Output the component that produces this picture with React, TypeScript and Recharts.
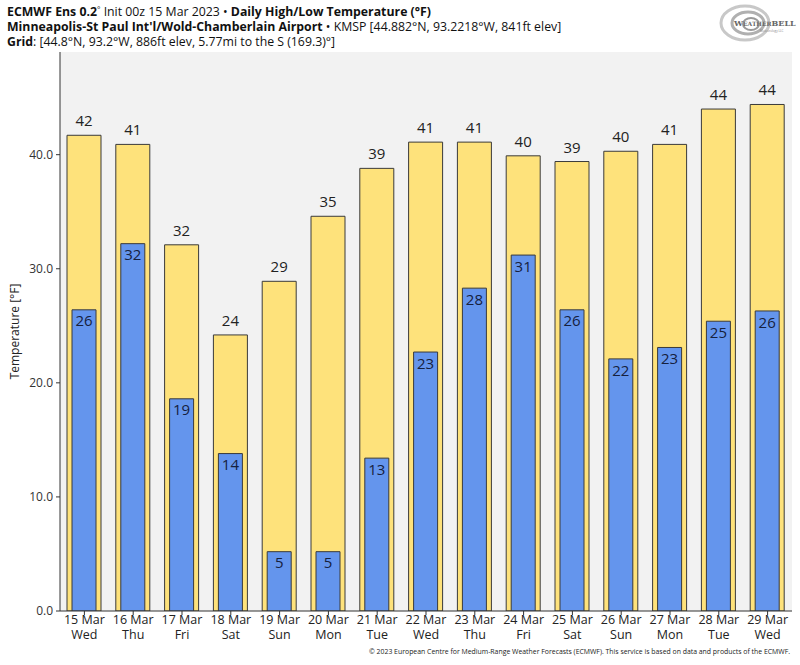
import React from "react";
import {
  ComposedChart,
  Bar,
  XAxis,
  YAxis,
  CartesianGrid,
  LabelList,
} from "recharts";

const dates = ["15 Mar", "16 Mar", "17 Mar", "18 Mar", "19 Mar", "20 Mar", "21 Mar", "22 Mar", "23 Mar", "24 Mar", "25 Mar", "26 Mar", "27 Mar", "28 Mar", "29 Mar"];
const weekdays = ["Wed", "Thu", "Fri", "Sat", "Sun", "Mon", "Tue", "Wed", "Thu", "Fri", "Sat", "Sun", "Mon", "Tue", "Wed"];
const highs = [41.7, 40.9, 32.1, 24.2, 28.9, 34.6, 38.8, 41.1, 41.1, 39.9, 39.4, 40.3, 40.9, 44.0, 44.4];
const lows = [26.4, 32.2, 18.6, 13.8, 5.2, 5.2, 13.4, 22.7, 28.3, 31.2, 26.4, 22.1, 23.1, 25.4, 26.3];
const yTicks = [0, 10, 20, 30, 40];

const data = dates.map((d, i) => ({ date: d, day: weekdays[i], high: highs[i], low: lows[i] }));

const FONT = "'Open Sans', 'Noto Sans', sans-serif";

const XTick = (props: any) => {
  const { x, y, payload } = props;
  const i = payload.index;
  return (
    <g>
      <text x={x} y={y + 7} textAnchor="middle" fontSize={12.5} fill="#222" fontFamily={FONT}>
        {payload.value}
      </text>
      <text x={x} y={y + 22} textAnchor="middle" fontSize={12.5} fill="#222" fontFamily={FONT}>
        {weekdays[i]}
      </text>
    </g>
  );
};

export default function App() {
  return (
    <div style={{ position: "absolute", left: 0, top: 0, width: 800, height: 665, background: "#fff", fontFamily: FONT }}>
      <ComposedChart
        width={800}
        height={665}
        data={data}
        margin={{ top: 52, right: 8, left: 0, bottom: 0 }}
        barCategoryGap={0}
        barGap={0}
      >
        <CartesianGrid fill="#f2f2f2" horizontal={false} vertical={false} />
        <XAxis
          dataKey="date"
          xAxisId="bottom"
          height={54}
          tick={<XTick />}
          tickLine={{ stroke: "#333" }}
          tickSize={4}
          axisLine={{ stroke: "#333" }}
          interval={0}
        />
        <XAxis
          dataKey="date"
          xAxisId="top"
          orientation="top"
          height={0}
          tick={false}
          tickLine={false}
          axisLine={{ stroke: "#333" }}
        />
        <YAxis
          yAxisId="left"
          width={60}
          domain={[0, 49]}
          ticks={yTicks}
          allowDataOverflow
          tickFormatter={(v: number) => v.toFixed(1)}
          tick={{ fontSize: 12, fill: "#333", fontFamily: FONT }}
          tickLine={{ stroke: "#333" }}
          tickSize={4}
          tickMargin={3}
          axisLine={{ stroke: "#333" }}
          label={{
            value: "Temperature [°F]",
            angle: -90,
            position: "insideLeft",
            offset: 15,
            style: { fontSize: 12, fill: "#222", fontFamily: FONT, textAnchor: "middle" },
          }}
        />
        <YAxis
          yAxisId="right"
          orientation="right"
          width={0}
          domain={[0, 49]}
          tick={false}
          tickLine={false}
          axisLine={{ stroke: "#333" }}
        />
        <Bar
          dataKey="high"
          xAxisId="bottom"
          yAxisId="left"
          barSize={34}
          fill="#fee27b"
          stroke="#3a3a3a"
          strokeWidth={1}
          isAnimationActive={false}
        >
          <LabelList
            dataKey="high"
            position="top"
            offset={9}
            formatter={(v: any) => Math.round(Number(v))}
            style={{ fontSize: 15, fill: "#222", fontFamily: FONT }}
          />
        </Bar>
        <Bar
          dataKey="low"
          xAxisId="top"
          yAxisId="left"
          barSize={24}
          fill="#6495ed"
          stroke="#3a3a3a"
          strokeWidth={1}
          isAnimationActive={false}
        >
          <LabelList
            dataKey="low"
            position="insideTop"
            offset={6}
            formatter={(v: any) => Math.round(Number(v))}
            style={{ fontSize: 15, fill: "#16213e", fontFamily: FONT }}
          />
        </Bar>
      </ComposedChart>

      <svg width={800} height={665} style={{ position: "absolute", left: 0, top: 0, pointerEvents: "none" }}>
        <g fontFamily={FONT} fontSize={12.3} fill="#111">
          <text x={7} y={16}>
            <tspan fontWeight="bold">ECMWF Ens 0.2</tspan>
            <tspan fontSize={8} dy={-4}>°</tspan>
            <tspan dy={4}> Init 00z 15 Mar 2023 • </tspan>
            <tspan fontWeight="bold">Daily High/Low Temperature (°F)</tspan>
          </text>
          <text x={7} y={31}>
            <tspan fontWeight="bold">Minneapolis-St Paul Int'l/Wold-Chamberlain Airport</tspan>
            <tspan> • KMSP [44.882°N, 93.2218°W, 841ft elev]</tspan>
          </text>
          <text x={7} y={46}>
            <tspan fontWeight="bold">Grid</tspan>
            <tspan>: [44.8°N, 93.2°W, 886ft elev, 5.77mi to the S (169.3)°]</tspan>
          </text>
        </g>
        <text x={790} y={654} textAnchor="end" fontFamily={FONT} fontSize={6.9} fill="#222">
          © 2023 European Centre for Medium-Range Weather Forecasts (ECMWF). This service is based on data and products of the ECMWF.
        </text>
        <g>
          <ellipse cx={745} cy={23} rx={24} ry={17} fill="none" stroke="#c8c8c8" strokeWidth={3} />
          <ellipse cx={748} cy={23} rx={16} ry={11} fill="none" stroke="#b0b0b0" strokeWidth={3} />
          <ellipse cx={751} cy={24} rx={8} ry={6} fill="none" stroke="#999" strokeWidth={2} />
          <text x={734} y={26} fontFamily="'DejaVu Serif', serif" fontSize={8} fill="#666" fontWeight="bold">
            W<tspan fontSize={6}>EATHER</tspan>BELL
          </text>
          <text x={760} y={32} fontFamily={FONT} fontSize={3} fill="#888">Meteorology LLC</text>
        </g>
      </svg>
    </div>
  );
}
